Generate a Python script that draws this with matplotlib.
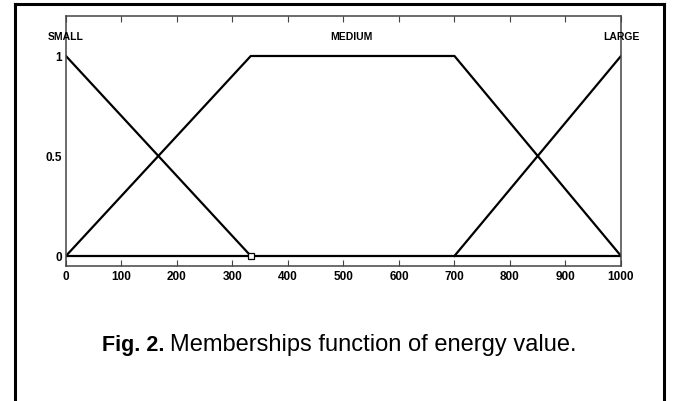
import matplotlib
matplotlib.use("Agg")
import matplotlib.pyplot as plt
from matplotlib.lines import Line2D

plt.rcParams['font.family'] = ['Liberation Sans', 'DejaVu Sans']

# membership functions of the energy value
small_x = [0, 333]
small_y = [1, 0]
medium_x = [0, 333, 700, 1000]
medium_y = [0, 1, 1, 0]
large_x = [700, 1000]
large_y = [0, 1]
base_x = [0, 1000]
base_y = [0, 0]

set_names = ['SMALL', 'MEDIUM', 'LARGE']
set_label_x = [0, 515, 1000]
set_label_y = 1.1

xticks = [0, 100, 200, 300, 400, 500, 600, 700, 800, 900, 1000]
yticks = [0, 0.5, 1]
ytick_labels = ['0', '0.5', '1']

fig = plt.figure(figsize=(6.73, 4.02), dpi=100)
ax = fig.add_axes([0.098, 0.336, 0.8247, 0.6217])

lw = 1.6
ax.plot(base_x, base_y, color='black', lw=lw, solid_capstyle='butt')
ax.plot(small_x, small_y, color='black', lw=lw)
ax.plot(medium_x, medium_y, color='black', lw=lw)
ax.plot(large_x, large_y, color='black', lw=lw)
ax.plot([small_x[-1]], [small_y[-1]], marker='s', ms=4.5, mfc='white',
        mec='black', mew=0.9, ls='none')

ax.set_xlim(0, 1000)
ax.set_ylim(-0.05, 1.2)
ax.set_xticks(xticks)
ax.set_yticks(yticks)
ax.set_yticklabels(ytick_labels)
ax.tick_params(axis='both', direction='in', labelsize=8.5, length=4,
               width=0.8, color='#444444', top=True, right=False, pad=3)
ax.tick_params(axis='y', length=0)
for lab in ax.get_xticklabels() + ax.get_yticklabels():
    lab.set_fontweight('bold')
for sp in ax.spines.values():
    sp.set_linewidth(1.1)
    sp.set_color('#444444')

for name, x in zip(set_names, set_label_x):
    ax.text(x, set_label_y, name, ha='center', va='center', fontsize=7.5,
            fontweight='bold')

# caption under the plot
cap_y = 1 - 351 / 402
fig.text(102 / 673, cap_y, 'Fig. 2.', fontsize=15.5, fontweight='bold',
         ha='left', va='baseline')
fig.text(577 / 673, cap_y, 'Memberships function of energy value.',
         fontsize=17, ha='right', va='baseline')

# frame around the figure (open at the bottom)
fx0, fx1, fy1 = 15 / 673, 664 / 673, 1 - 5 / 402
for xs, ys in [([fx0, fx0], [0, fy1]), ([fx0, fx1], [fy1, fy1]),
               ([fx1, fx1], [fy1, 0])]:
    fig.add_artist(Line2D(xs, ys, transform=fig.transFigure, color='black',
                          lw=2.2, solid_capstyle='projecting'))

fig.savefig('out.png', dpi=100)
